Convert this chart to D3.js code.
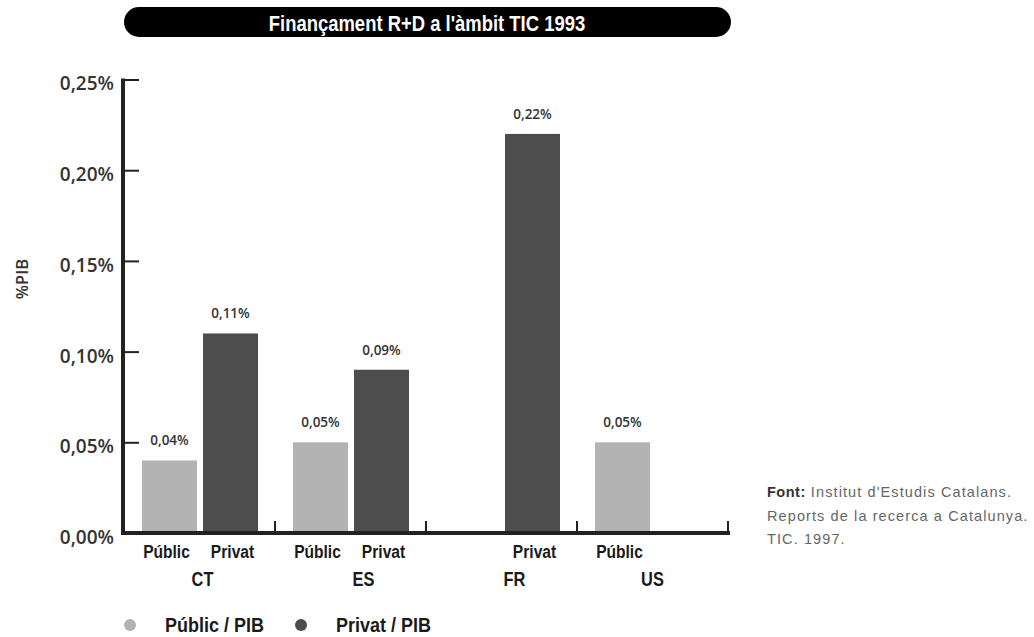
<!DOCTYPE html>
<html>
<head>
<meta charset="utf-8">
<script src="https://cdn.jsdelivr.net/npm/d3@7/dist/d3.min.js"></script>
<style>
  html, body { margin: 0; padding: 0; background: #fff; }
  svg { display: block; }
  .cond { font-family: "Liberation Sans", Arial, sans-serif; font-weight: bold; }
  .semi { font-family: "Open Sans", "Liberation Sans", sans-serif; font-weight: 600; }
</style>
</head>
<body>
<svg id="chart" width="1034" height="637"></svg>
<script>
// ---- data ----
const titleText = "Finançament R+D a l'àmbit TIC 1993";
const groups = ["CT", "ES", "FR", "US"];
const seriesKeys = ["Públic", "Privat"];
const publicValues = [0.04, 0.05, null, 0.05];
const privateValues = [0.11, 0.09, 0.22, null];
const yTicks = [0, 0.05, 0.10, 0.15, 0.20, 0.25];
const yTitle = "%PIB";
const legendLabels = ["Públic / PIB", "Privat / PIB"];
const sourceLines = [
  ["Font:", " Institut d'Estudis Catalans."],
  ["", "Reports de la recerca a Catalunya."],
  ["", "TIC. 1997."]
];

// ---- layout / style ----
const colors = { "Públic": "#b3b3b3", "Privat": "#4d4d4d" };
const condScale = 0.82;               // horizontal squeeze to mimic a condensed face
const groupLabelNudge = { CT: 2, ES: 12, FR: 12, US: -1 };
const seriesLabelNudge = { "Públic": -3, "Privat": 2 };
const fmt = v => d3.format(".2f")(v).replace(".", ",") + "%";

const svg = d3.select("#chart");

// title pill
svg.append("rect").attr("x", 124).attr("y", 7).attr("width", 607).attr("height", 30)
  .attr("rx", 15).attr("ry", 15).attr("fill", "#000");
svg.append("g").attr("transform", "translate(427,31)")
  .append("text").attr("class", "cond")
  .attr("transform", `scale(${condScale},1)`)
  .attr("text-anchor", "middle").attr("fill", "#fff").attr("font-size", 22.5)
  .text(titleText);

// scales
const y = d3.scaleLinear().domain([0, 0.25]).range([533, 79.5]);
const x0 = d3.scaleBand().domain(groups).range([125, 729]).paddingInner(0).paddingOuter(0);
const x1 = d3.scaleBand().domain(seriesKeys).range([17, 133]).paddingInner(6 / 61).paddingOuter(0);

// bars
const rows = [];
groups.forEach((g, i) => {
  if (publicValues[i] != null) rows.push({ g, key: "Públic", v: publicValues[i] });
  if (privateValues[i] != null) rows.push({ g, key: "Privat", v: privateValues[i] });
});
const barCx = d => x0(d.g) + x1(d.key) + x1.bandwidth() / 2;

svg.append("g").selectAll("rect").data(rows).join("rect")
  .attr("x", d => x0(d.g) + x1(d.key))
  .attr("width", x1.bandwidth())
  .attr("y", d => y(d.v))
  .attr("height", d => y(0) - y(d.v))
  .attr("fill", d => colors[d.key]);

// value labels
svg.append("g").selectAll("text").data(rows).join("text")
  .attr("class", "semi")
  .attr("x", barCx)
  .attr("y", d => y(d.v) - 15)
  .attr("text-anchor", "middle")
  .attr("font-size", 13.5)
  .attr("fill", "#333")
  .text(d => fmt(d.v));

// y axis
const yAxis = d3.axisLeft(y).tickValues(yTicks).tickFormat(fmt)
  .tickSize(-16).tickSizeOuter(0).tickPadding(9);
const yg = svg.append("g").attr("transform", "translate(123,0)").call(yAxis);
yg.select(".domain").attr("stroke", "#222").attr("stroke-width", 4)
  .attr("d", `M0,${y(0.25) - 1}V${y(0) + 2}`);
yg.selectAll(".tick line").attr("stroke", "#222").attr("stroke-width", 2);
yg.selectAll(".tick").filter(d => d === 0).select("line").remove();
yg.selectAll(".tick text").attr("class", "semi").attr("font-size", 19)
  .attr("fill", "#333").attr("dy", "0.55em");

// y title
svg.append("text").attr("class", "semi")
  .attr("transform", "translate(28,279) rotate(-90)")
  .attr("text-anchor", "middle").attr("font-size", 16.5).attr("font-weight", 700)
  .attr("fill", "#333").text(yTitle);

// x axis baseline and separators
svg.append("line").attr("x1", 121).attr("x2", x0.range()[1] + 1)
  .attr("y1", y(0)).attr("y2", y(0)).attr("stroke", "#222").attr("stroke-width", 4);
svg.append("g").selectAll("line").data(groups).join("line")
  .attr("x1", d => x0(d) + x0.bandwidth() - 1).attr("x2", d => x0(d) + x0.bandwidth() - 1)
  .attr("y1", y(0)).attr("y2", y(0) - 12)
  .attr("stroke", "#222").attr("stroke-width", 2);

// series labels under bars
svg.append("g").selectAll("g").data(rows).join("g")
  .attr("transform", d => `translate(${barCx(d) + seriesLabelNudge[d.key]},558)`)
  .each(function (d) {
    d3.select(this).append("text").attr("class", "cond")
      .attr("transform", `scale(${condScale},1)`)
      .attr("text-anchor", "middle").attr("font-size", 19).attr("fill", "#1a1a1a")
      .text(d.key);
  });

// group labels
svg.append("g").selectAll("g").data(groups).join("g")
  .attr("transform", d => `translate(${x0(d) + x0.bandwidth() / 2 + groupLabelNudge[d]},586)`)
  .each(function (d) {
    d3.select(this).append("text").attr("class", "cond")
      .attr("transform", `scale(${condScale},1)`)
      .attr("text-anchor", "middle").attr("font-size", 20).attr("fill", "#1a1a1a")
      .text(d);
  });

// legend
const legendX = [130, 301];
seriesKeys.forEach((k, i) => {
  svg.append("circle").attr("cx", legendX[i]).attr("cy", 625).attr("r", 6).attr("fill", colors[k]);
  svg.append("g").attr("transform", `translate(${legendX[i] + 35},632)`)
    .append("text").attr("class", "cond")
    .attr("transform", "scale(0.9,1)")
    .attr("font-size", 20).attr("fill", "#1a1a1a").text(legendLabels[i]);
});

// source
sourceLines.forEach((ln, i) => {
  const t = svg.append("text").attr("x", 767).attr("y", 497 + i * 23.5)
    .attr("font-family", "'Liberation Sans', Arial, sans-serif").attr("font-size", 14.5)
    .attr("letter-spacing", "1.1px")
    .attr("fill", "#666");
  if (ln[0]) t.append("tspan").attr("font-weight", "bold").attr("fill", "#333")
    .attr("letter-spacing", "0.5px").text(ln[0]);
  t.append("tspan").text(ln[1]);
});
</script>
</body>
</html>
